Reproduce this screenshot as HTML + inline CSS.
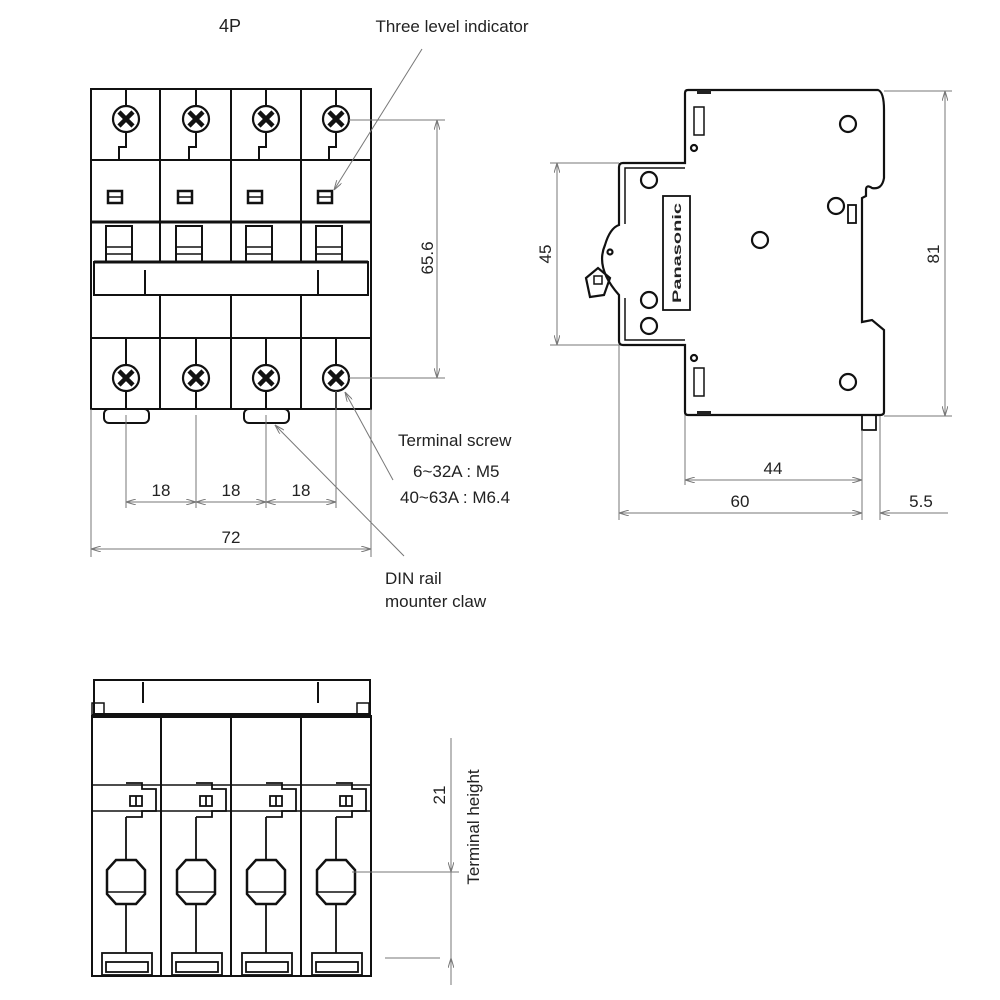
<!DOCTYPE html>
<html><head><meta charset="utf-8"><style>
html,body{margin:0;padding:0;background:#fff}
svg{display:block}
text{font-family:"Liberation Sans",sans-serif;fill:#222}
</style></head><body>
<svg width="1000" height="1000" viewBox="0 0 1000 1000" xmlns="http://www.w3.org/2000/svg">
<defs>
<marker id="ar" viewBox="0 0 10 6" refX="10" refY="3" markerWidth="10" markerHeight="6" orient="auto-start-reverse" markerUnits="userSpaceOnUse"><path d="M0,0 L10,3 L0,6" fill="none" stroke="#777" stroke-width="1"/></marker>
<g id="scr"><circle r="13" fill="#fff" stroke="#111" stroke-width="2.2"/><path d="M-7,-7 L7,7 M7,-7 L-7,7" stroke="#111" stroke-width="4.5"/><circle r="3" fill="#111"/></g>
<g id="oct"><path d="M-10,-22 L10,-22 L19,-12 L19,12 L10,22 L-10,22 L-19,12 L-19,-12 Z" fill="none" stroke="#111" stroke-width="2.5"/><line x1="-19" y1="10" x2="19" y2="10" stroke="#111" stroke-width="1.5"/></g>
</defs>

<!-- ===== FRONT VIEW ===== -->
<text x="230" y="32" font-size="18" text-anchor="middle">4P</text>
<text x="452" y="32" font-size="17" text-anchor="middle">Three level indicator</text>
<g fill="none" stroke="#111" stroke-width="2">
<rect x="91" y="89" width="280" height="320"/>
<line x1="160" y1="89" x2="160" y2="262"/><line x1="231" y1="89" x2="231" y2="262"/><line x1="301" y1="89" x2="301" y2="262"/>
<line x1="160" y1="295" x2="160" y2="409"/><line x1="231" y1="295" x2="231" y2="409"/><line x1="301" y1="295" x2="301" y2="409"/>
<line x1="91" y1="160" x2="371" y2="160"/>
<line x1="91" y1="222" x2="371" y2="222" stroke-width="3"/>
<line x1="91" y1="338" x2="371" y2="338"/>
<rect x="94" y="262" width="274" height="33"/>
<line x1="94" y1="262" x2="368" y2="262" stroke-width="3"/>
<line x1="145" y1="270" x2="145" y2="295"/><line x1="318" y1="270" x2="318" y2="295"/>
<rect x="104" y="409" width="45" height="14" rx="5"/><rect x="244" y="409" width="45" height="14" rx="5"/>
</g>
<g fill="none" stroke="#111" stroke-width="2">
<path d="M126,89v17 M196,89v17 M266,89v17 M336,89v17"/>
<path d="M126,132v15h-7v13 M196,132v15h-7v13 M266,132v15h-7v13 M336,132v15h-7v13"/>
<path d="M126,338v27 M196,338v27 M266,338v27 M336,338v27"/>
<path d="M126,391v18 M196,391v18 M266,391v18 M336,391v18"/>
</g>
<g fill="none" stroke="#111" stroke-width="2.5">
<rect x="108" y="191" width="14" height="12"/><rect x="178" y="191" width="14" height="12"/><rect x="248" y="191" width="14" height="12"/><rect x="318" y="191" width="14" height="12"/>
<path d="M108,197h14M178,197h14M248,197h14M318,197h14" stroke-width="1.5"/>
</g>
<g fill="none" stroke="#111" stroke-width="2">
<rect x="106" y="226" width="26" height="36"/><rect x="176" y="226" width="26" height="36"/><rect x="246" y="226" width="26" height="36"/><rect x="316" y="226" width="26" height="36"/>
<path d="M106,247h26M106,254h26M176,247h26M176,254h26M246,247h26M246,254h26M316,247h26M316,254h26" stroke-width="1.5"/>
</g>
<use href="#scr" x="126" y="119"/><use href="#scr" x="196" y="119"/><use href="#scr" x="266" y="119"/><use href="#scr" x="336" y="119"/>
<use href="#scr" x="126" y="378"/><use href="#scr" x="196" y="378"/><use href="#scr" x="266" y="378"/><use href="#scr" x="336" y="378"/>
<g stroke="#777" stroke-width="1" fill="none">
<line x1="422" y1="49" x2="334" y2="190" marker-end="url(#ar)"/>
<line x1="349" y1="120" x2="445" y2="120"/><line x1="349" y1="378" x2="445" y2="378"/>
<line x1="437" y1="120" x2="437" y2="378" marker-start="url(#ar)" marker-end="url(#ar)"/>
<path d="M126,415v93 M196,415v93 M266,415v93 M336,391v117 M91,409v148 M371,409v148"/>
<line x1="126" y1="502" x2="196" y2="502" marker-start="url(#ar)" marker-end="url(#ar)"/>
<line x1="196" y1="502" x2="266" y2="502" marker-start="url(#ar)" marker-end="url(#ar)"/>
<line x1="266" y1="502" x2="336" y2="502" marker-start="url(#ar)" marker-end="url(#ar)"/>
<line x1="91" y1="549" x2="371" y2="549" marker-start="url(#ar)" marker-end="url(#ar)"/>
<line x1="393" y1="480" x2="345" y2="392" marker-end="url(#ar)"/>
<line x1="404" y1="556" x2="275" y2="425" marker-end="url(#ar)"/>
</g>
<text font-size="17" transform="translate(433,258) rotate(-90)" text-anchor="middle">65.6</text>
<text x="161" y="496" font-size="17" text-anchor="middle">18</text>
<text x="231" y="496" font-size="17" text-anchor="middle">18</text>
<text x="301" y="496" font-size="17" text-anchor="middle">18</text>
<text x="231" y="543" font-size="17" text-anchor="middle">72</text>
<text x="398" y="446" font-size="17">Terminal screw</text>
<text x="413" y="477" font-size="17">6~32A : M5</text>
<text x="400" y="503" font-size="17">40~63A : M6.4</text>
<text x="385" y="584" font-size="17">DIN rail</text>
<text x="385" y="607" font-size="17">mounter claw</text>

<!-- ===== SIDE VIEW ===== -->
<g fill="none" stroke="#111" stroke-width="2.2">
<path d="M688,90 L878,90 Q884,92 884,110 L884,178 Q882,190 872,188 Q866,184 866,190 L866,196 L862,198 L862,322 L872,320 L884,330 L884,412 Q884,415 880,415 L688,415 Q685,415 685,412 L685,345 L623,345 Q619,345 619,341 L619,295 Q595,268 605,245 Q610,228 619,225 L619,167 Q619,163 623,163 L685,163 L685,93 Q685,90 688,90 Z"/>
<path d="M685,168 L625,168 L625,224 M625,298 L625,340 L685,340" stroke-width="1.5"/>
<path d="M862,415 v15 h14 v-15" stroke-width="1.8"/>
<rect x="848" y="205" width="8" height="18" stroke-width="1.8"/>
<rect x="663" y="196" width="27" height="114" stroke-width="1.8"/>
<rect x="694" y="107" width="10" height="28" stroke-width="1.5"/><rect x="694" y="368" width="10" height="28" stroke-width="1.5"/>
<circle cx="848" cy="124" r="8"/><circle cx="836" cy="206" r="8"/><circle cx="760" cy="240" r="8"/><circle cx="848" cy="382" r="8"/>
<circle cx="649" cy="180" r="8"/><circle cx="649" cy="300" r="8"/><circle cx="649" cy="326" r="8"/>
<circle cx="694" cy="148" r="3"/><circle cx="694" cy="358" r="3"/><circle cx="610" cy="252" r="2.5"/>
<path d="M586,278 L598,268 L610,278 L604,295 L590,297 Z"/><rect x="594" y="276" width="8" height="8" stroke-width="1.5"/>
</g>
<rect x="697" y="90" width="14" height="4" fill="#222"/><rect x="697" y="411" width="14" height="4" fill="#222"/>
<text transform="translate(681,253) rotate(-90)" font-size="12" font-weight="bold" text-anchor="middle" textLength="100" lengthAdjust="spacingAndGlyphs">Panasonic</text>
<g stroke="#777" stroke-width="1" fill="none">
<line x1="550" y1="163" x2="619" y2="163"/><line x1="550" y1="345" x2="619" y2="345"/>
<line x1="557" y1="163" x2="557" y2="345" marker-start="url(#ar)" marker-end="url(#ar)"/>
<line x1="884" y1="91" x2="952" y2="91"/><line x1="884" y1="416" x2="952" y2="416"/>
<line x1="945" y1="91" x2="945" y2="416" marker-start="url(#ar)" marker-end="url(#ar)"/>
<path d="M685,415v70 M619,345v175 M862,430v90 M880,416v104"/>
<line x1="685" y1="480" x2="862" y2="480" marker-start="url(#ar)" marker-end="url(#ar)"/>
<line x1="619" y1="513" x2="862" y2="513" marker-start="url(#ar)" marker-end="url(#ar)"/>
<line x1="948" y1="513" x2="880" y2="513" marker-end="url(#ar)"/>
</g>
<text font-size="17" transform="translate(551,254) rotate(-90)" text-anchor="middle">45</text>
<text font-size="17" transform="translate(939,254) rotate(-90)" text-anchor="middle">81</text>
<text x="773" y="474" font-size="17" text-anchor="middle">44</text>
<text x="740" y="507" font-size="17" text-anchor="middle">60</text>
<text x="921" y="507" font-size="17" text-anchor="middle">5.5</text>

<!-- ===== BOTTOM VIEW ===== -->
<g fill="none" stroke="#111" stroke-width="2">
<rect x="94" y="680" width="276" height="34"/>
<line x1="143" y1="682" x2="143" y2="703"/><line x1="318" y1="682" x2="318" y2="703"/>
<rect x="92" y="703" width="12" height="12" stroke-width="1.5"/><rect x="357" y="703" width="12" height="12" stroke-width="1.5"/>
<line x1="92" y1="716" x2="371" y2="716" stroke-width="4"/>
<rect x="92" y="716" width="279" height="260"/>
<line x1="161" y1="716" x2="161" y2="976"/><line x1="231" y1="716" x2="231" y2="976"/><line x1="301" y1="716" x2="301" y2="976"/>
<line x1="92" y1="785" x2="371" y2="785" stroke-width="1.5"/><line x1="92" y1="811" x2="371" y2="811" stroke-width="1.5"/>
</g>
<g fill="none" stroke="#111" stroke-width="1.8">
<g id="bc">
<path d="M126,783 h16 v6 h14 v22 h-14 v6 h-16"/>
<rect x="130" y="796" width="12" height="10"/><line x1="136" y1="796" x2="136" y2="806"/>
<line x1="126" y1="817" x2="126" y2="860"/><line x1="126" y1="904" x2="126" y2="953"/>
<rect x="102" y="953" width="50" height="22"/><rect x="106" y="962" width="42" height="10"/>
</g>
<use href="#bc" x="70"/><use href="#bc" x="140"/><use href="#bc" x="210"/>
</g>
<use href="#oct" x="126" y="882"/><use href="#oct" x="196" y="882"/><use href="#oct" x="266" y="882"/><use href="#oct" x="336" y="882"/>
<g stroke="#777" stroke-width="1" fill="none">
<line x1="352" y1="872" x2="459" y2="872"/><line x1="385" y1="958" x2="440" y2="958"/>
<line x1="451" y1="738" x2="451" y2="872" marker-end="url(#ar)"/>
<line x1="451" y1="985" x2="451" y2="958" marker-end="url(#ar)"/>
<line x1="451" y1="872" x2="451" y2="958"/>
</g>
<text font-size="17" transform="translate(445,795) rotate(-90)" text-anchor="middle">21</text>
<text font-size="17" transform="translate(479,827) rotate(-90)" text-anchor="middle">Terminal height</text>
</svg>
</body></html>
